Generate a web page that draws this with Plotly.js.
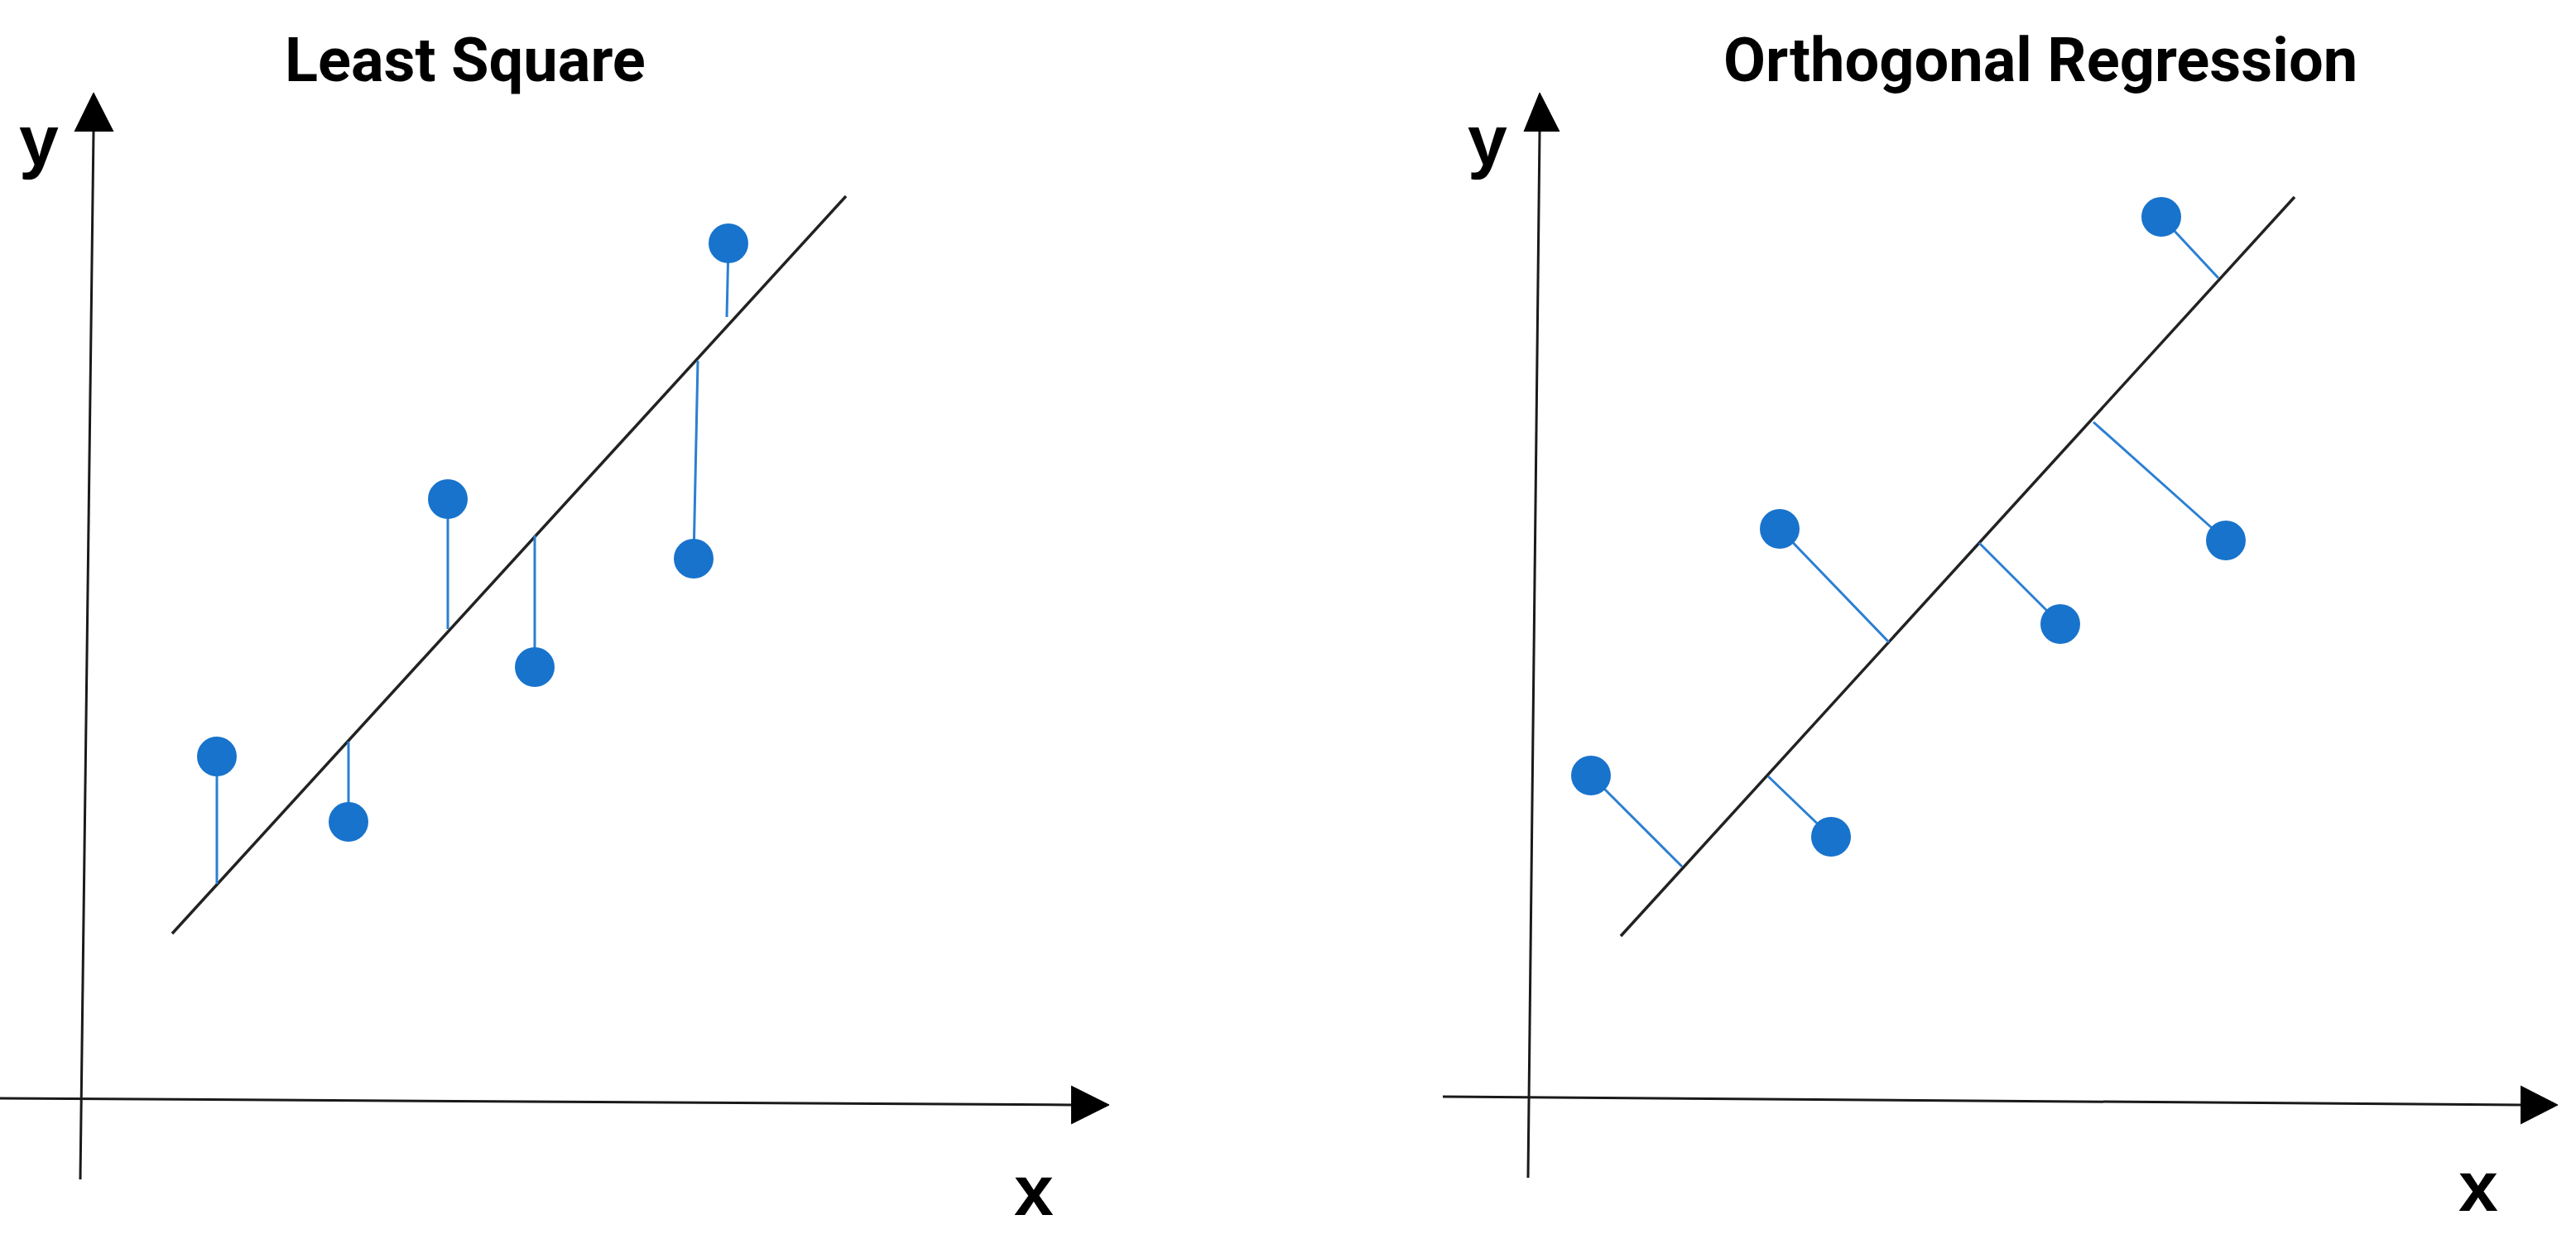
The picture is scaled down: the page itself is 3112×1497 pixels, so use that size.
<!DOCTYPE html>
<html>
<head>
<meta charset="utf-8">
<script src="https://cdn.plot.ly/plotly-3.0.1.min.js"></script>
<style>
  html, body { margin: 0; padding: 0; background: #ffffff; }
  #plot { width: 3112px; height: 1497px; }
</style>
</head>
<body>
<div id="plot"></div>
<script>
// units: 10 px of the original picture, origin where the drawn axes cross
const panelTitles = ['Least Square', 'Orthogonal Regression'];

const lsPointX = [16.4, 32.3, 44.3, 54.8, 74.0, 78.2];
const lsPointY = [41.3, 33.4, 72.4, 52.1, 65.2, 103.3];
const lsFootX = [16.4, 32.3, 44.3, 54.8, 74.5, 78.0];
const lsFootY = [25.9, 43.1, 56.7, 68.0, 89.1, 94.4];
const lsLineX = [11.0, 92.4];
const lsLineY = [19.9, 109.0];

const orPointX = [7.5, 36.5, 30.3, 64.2, 84.2, 76.4];
const orPointY = [38.8, 31.4, 68.6, 57.1, 67.2, 106.3];
const orFootX = [18.5, 28.9, 43.5, 54.4, 68.2, 83.3];
const orFootY = [27.8, 38.7, 54.9, 66.9, 81.5, 98.9];
const orLineX = [11.1, 92.5];
const orLineY = [19.4, 108.7];

// drawn axes: [start, end] of each shaft, then arrowhead corners
const lsAxisX = { x: [-9.8, 119.6], y: [0, -0.8], headX: [119.6, 124.2, 119.6], headY: [1.5, -0.8, -3.1] };
const lsAxisY = { x: [-0.1, 1.5], y: [-9.8, 116.8], headX: [-0.8, 1.5, 3.9], headY: [116.8, 121.5, 116.8] };
const orAxisX = { x: [-10.4, 119.8], y: [0, -1.0], headX: [119.8, 124.3, 119.8], headY: [1.3, -1.0, -3.3] };
const orAxisY = { x: [-0.1, 1.3], y: [-9.8, 116.6], headX: [-0.6, 1.3, 3.7], headY: [116.6, 121.3, 116.6] };

const lsLabelPos = { y: [-5.1, 115.8], x: [115.1, -11.1] };
const orLabelPos = { y: [-5.0, 115.6], x: [114.7, -10.8] };

const pointColor = '#1873cc';
const residualColor = '#2b7fd3';
const inkColor = '#1a1a1a';
const labelFamily = '"Liberation Sans", Arial, sans-serif';
const titleFamily = 'Roboto, "Liberation Sans", sans-serif';

function segments(x0, y0, x1, y1) {
  const x = [];
  const y = [];

  for (let i = 0; i < x0.length; i++) {
    x.push(x0[i], x1[i], null);
    y.push(y0[i], y1[i], null);
  }

  return { x, y };
}

function panelTraces(suffix, pointX, pointY, footX, footY, lineX, lineY, axisX, axisY) {
  const xa = 'x' + suffix;
  const ya = 'y' + suffix;
  const residuals = segments(pointX, pointY, footX, footY);
  const traces = [];

  [axisX, axisY].forEach((axis) => {
    traces.push({
      x: axis.x, y: axis.y, xaxis: xa, yaxis: ya,
      type: 'scatter', mode: 'lines',
      line: { color: inkColor, width: 3 },
      hoverinfo: 'skip',
    });
    traces.push({
      x: axis.headX, y: axis.headY, xaxis: xa, yaxis: ya,
      type: 'scatter', mode: 'lines', fill: 'toself',
      fillcolor: '#000000', line: { color: '#000000', width: 1 },
      hoverinfo: 'skip',
    });
  });

  traces.push({
    x: lineX, y: lineY, xaxis: xa, yaxis: ya,
    type: 'scatter', mode: 'lines',
    line: { color: '#222222', width: 3.5 },
    hoverinfo: 'skip',
  });

  traces.push({
    x: residuals.x, y: residuals.y, xaxis: xa, yaxis: ya,
    type: 'scatter', mode: 'lines', connectgaps: false,
    line: { color: residualColor, width: 3 },
    hoverinfo: 'skip',
  });

  traces.push({
    x: pointX, y: pointY, xaxis: xa, yaxis: ya,
    type: 'scatter', mode: 'markers',
    marker: { color: pointColor, size: 48, line: { width: 0 } },
    hoverinfo: 'skip',
  });

  return traces;
}

function labelAnnotations(suffix, pos) {
  const font = { family: labelFamily, size: 86, color: '#000000', weight: 700 };

  return [
    { text: 'y', x: pos.y[0], y: pos.y[1], xref: 'x' + suffix, yref: 'y' + suffix, showarrow: false, xanchor: 'center', yanchor: 'middle', font },
    { text: 'x', x: pos.x[0], y: pos.x[1], xref: 'x' + suffix, yref: 'y' + suffix, showarrow: false, xanchor: 'center', yanchor: 'middle', font },
  ];
}

function hiddenAxis(domain, range, anchor) {
  return {
    domain, range, anchor,
    visible: false, showgrid: false, zeroline: false, fixedrange: true,
  };
}

const data = [
  ...panelTraces('', lsPointX, lsPointY, lsFootX, lsFootY, lsLineX, lsLineY, lsAxisX, lsAxisY),
  ...panelTraces('2', orPointX, orPointY, orFootX, orFootY, orLineX, orLineY, orAxisX, orAxisY),
];

const titleFont = { family: titleFamily, size: 74, color: '#000000', weight: 700 };

const layout = {
  width: 3112,
  height: 1497,
  margin: { l: 0, r: 0, t: 0, b: 0 },
  paper_bgcolor: '#ffffff',
  plot_bgcolor: '#ffffff',
  showlegend: false,
  xaxis: hiddenAxis([0, 1400 / 3112], [-9.8, 130.2], 'y'),
  yaxis: hiddenAxis([0, 1], [-17.0, 132.7], 'x'),
  xaxis2: hiddenAxis([1700 / 3112, 1], [-14.7, 126.5], 'y2'),
  yaxis2: hiddenAxis([0, 1], [-17.2, 132.5], 'x2'),
  annotations: [
    { text: panelTitles[0], x: 0.1806, y: 0.9515, xref: 'paper', yref: 'paper', showarrow: false, xanchor: 'center', yanchor: 'middle', font: titleFont },
    { text: panelTitles[1], x: 0.7921, y: 0.9515, xref: 'paper', yref: 'paper', showarrow: false, xanchor: 'center', yanchor: 'middle', font: titleFont },
    ...labelAnnotations('', lsLabelPos),
    ...labelAnnotations('2', orLabelPos),
  ],
};

Plotly.newPlot('plot', data, layout, { displayModeBar: false, staticPlot: true });
</script>
</body>
</html>
